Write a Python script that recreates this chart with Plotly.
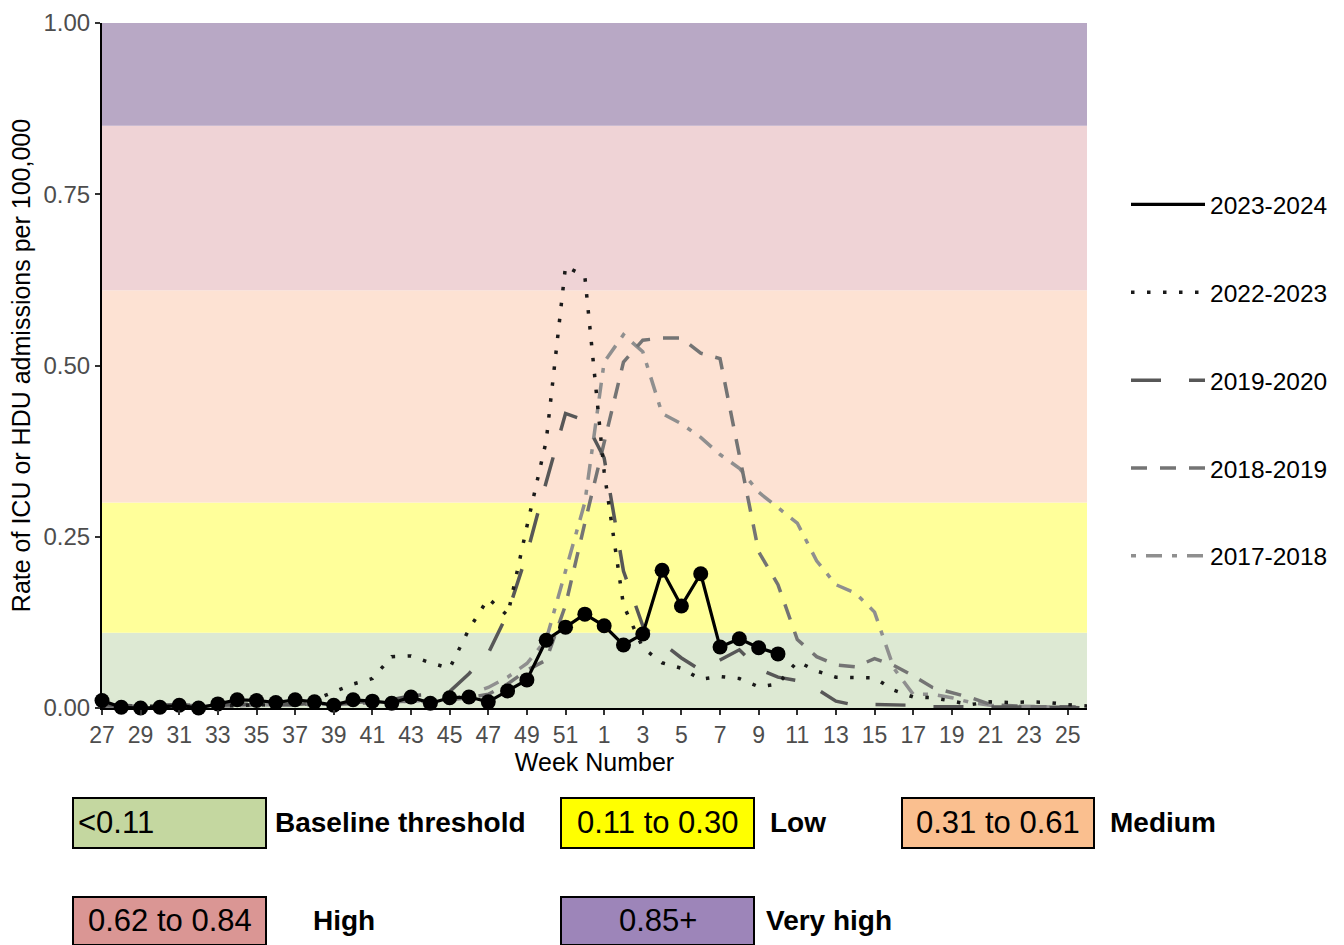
import plotly.graph_objects as go

# ---------------- data ----------------
weeks = list(range(27, 53)) + list(range(1, 27))
week_labels = [str(w) for w in weeks]
tick_labels = week_labels[::2][:26]  # 27, 29, ..., 51, 1, 3, ..., 25

season_names = ["2023-2024", "2022-2023", "2019-2020", "2018-2019", "2017-2018"]

rate_2023_2024 = [0.011, 0.001, 0.000, 0.001, 0.004, 0.000, 0.006, 0.012, 0.011, 0.008,
                  0.012, 0.009, 0.004, 0.012, 0.010, 0.007, 0.016, 0.007, 0.015, 0.016,
                  0.009, 0.025, 0.041, 0.099, 0.118, 0.137, 0.120, 0.092, 0.108, 0.201,
                  0.149, 0.196, 0.089, 0.101, 0.088, 0.079]

rate_2022_2023 = [0.003, 0.002, 0.002, 0.003, 0.002, 0.003, 0.004, 0.003, 0.005, 0.004,
                  0.006, 0.012, 0.024, 0.035, 0.043, 0.075, 0.076, 0.066, 0.058, 0.115,
                  0.160, 0.135, 0.265, 0.390, 0.645, 0.630, 0.345, 0.150, 0.088, 0.066,
                  0.058, 0.042, 0.046, 0.043, 0.031, 0.035, 0.068, 0.054, 0.045, 0.044,
                  0.044, 0.026, 0.016, 0.015, 0.010, 0.005, 0.009, 0.008, 0.009, 0.008,
                  0.005, 0.003]

rate_2019_2020 = [0.005, 0.004, 0.003, 0.004, 0.005, 0.003, 0.004, 0.006, 0.005, 0.006,
                  0.005, 0.007, 0.006, 0.008, 0.010, 0.012, 0.018, 0.020, 0.024, 0.050,
                  0.080, 0.138, 0.225, 0.330, 0.430, 0.420, 0.365, 0.200, 0.120, 0.095,
                  0.073, 0.055, 0.070, 0.085, 0.057, 0.045, 0.040, 0.028, 0.010, 0.004,
                  0.005, 0.005, 0.004, 0.002, 0.002, 0.001, 0.001, 0.002, 0.001, 0.001,
                  0.001, 0.000]

rate_2018_2019 = [0.003, 0.002, 0.003, 0.002, 0.004, 0.003, 0.003, 0.004, 0.005, 0.004,
                  0.005, 0.006, 0.005, 0.007, 0.008, 0.009, 0.010, 0.011, 0.012, 0.015,
                  0.020, 0.035, 0.055, 0.070, 0.150, 0.270, 0.390, 0.505, 0.537, 0.540,
                  0.540, 0.518, 0.510, 0.370, 0.228, 0.180, 0.100, 0.075, 0.063, 0.060,
                  0.072, 0.062, 0.047, 0.030, 0.023, 0.015, 0.005, 0.003, 0.002, 0.002,
                  0.002, 0.001]

rate_2017_2018 = [0.002, 0.003, 0.002, 0.003, 0.003, 0.002, 0.004, 0.003, 0.004, 0.005,
                  0.004, 0.005, 0.006, 0.006, 0.007, 0.008, 0.009, 0.010, 0.012, 0.020,
                  0.030, 0.045, 0.065, 0.100, 0.200, 0.300, 0.505, 0.545, 0.520, 0.430,
                  0.415, 0.395, 0.370, 0.350, 0.315, 0.292, 0.270, 0.215, 0.180, 0.168,
                  0.140, 0.058, 0.020, 0.020, 0.015, 0.008, 0.004, 0.003, 0.002, 0.002,
                  0.001, 0.001]

# threshold bands
band_lower = [0.00, 0.11, 0.30, 0.61, 0.85]
band_upper = [0.11, 0.30, 0.61, 0.85, 1.00]
band_fill = ["#dde9d3", "#ffff9a", "#fde2d3", "#efd3d6", "#b8a8c5"]
band_range_text = ["<0.11", "0.11 to 0.30", "0.31 to 0.61", "0.62 to 0.84", "0.85+"]
band_level_text = ["Baseline threshold", "Low", "Medium", "High", "Very high"]
band_key_fill = ["#c4d7a0", "#ffff00", "#fabf8f", "#da9694", "#9d85b9"]

y_ticks = [0.0, 0.25, 0.50, 0.75, 1.00]

# ---------------- layout helpers (pixel -> paper) ----------------
W, H = 1344, 945
PL, PR, PT, PB = 102, 1087, 23, 708


def px(x):
    return (x - PL) / (PR - PL)


def py(y):
    return (PB - y) / (PB - PT)


fig = go.Figure()

# background bands
for lo, hi, col in zip(band_lower, band_upper, band_fill):
    fig.add_hrect(y0=lo, y1=hi, fillcolor=col, opacity=1, line_width=0, layer="below")

# historic seasons (drawn first, under current season)
styles = {
    "2017-2018": dict(color="#8f8f8f", width=3.5, dash="5px,10px,16px,10px"),
    "2018-2019": dict(color="#747474", width=3.5, dash="16px,13px"),
    "2019-2020": dict(color="#575757", width=3.5, dash="30px,28px"),
    "2022-2023": dict(color="#1a1a1a", width=3.5, dash="3.5px,12.5px"),
}
series = {
    "2017-2018": rate_2017_2018,
    "2018-2019": rate_2018_2019,
    "2019-2020": rate_2019_2020,
    "2022-2023": rate_2022_2023,
}
ranks = {name: i + 1 for i, name in enumerate(season_names)}

for name in ["2017-2018", "2018-2019", "2019-2020", "2022-2023"]:
    vals = series[name]
    fig.add_trace(go.Scatter(
        x=week_labels[:len(vals)], y=vals, mode="lines", name=name,
        line=styles[name], legendgroup=name, legendrank=ranks[name],
    ))

fig.add_trace(go.Scatter(
    x=week_labels[:len(rate_2023_2024)], y=rate_2023_2024, mode="lines",
    name="2023-2024", line=dict(color="#000000", width=3.2),
    legendgroup="2023-2024", legendrank=ranks["2023-2024"],
))
fig.add_trace(go.Scatter(
    x=week_labels[:len(rate_2023_2024)], y=rate_2023_2024, mode="markers",
    marker=dict(color="#000000", size=15), showlegend=False, cliponaxis=False,
    hoverinfo="skip", legendgroup="2023-2024",
))

# threshold key below the chart
key_rows = [(798, 848), (897, 945)]
key_cols_box = [(73, 266), (561, 754), (902, 1094), (73, 266), (561, 754)]
key_rowidx = [0, 0, 0, 1, 1]
key_label_x = [273, 768, 1108, 311, 764]
for i in range(5):
    x0, x1 = key_cols_box[i]
    y0, y1 = key_rows[key_rowidx[i]]
    fig.add_shape(type="rect", xref="paper", yref="paper",
                  x0=px(x0), x1=px(x1), y0=py(y1), y1=py(y0),
                  fillcolor=band_key_fill[i], line=dict(color="#000000", width=2))
    left = i == 0
    fig.add_annotation(
        xref="paper", yref="paper",
        x=px(x0 + 3) if left else px((x0 + x1) / 2), y=py((y0 + y1) / 2),
        xanchor="left" if left else "center", yanchor="middle",
        text=band_range_text[i], showarrow=False,
        font=dict(family="Liberation Sans Narrow, Arial Narrow, Liberation Sans, sans-serif",
                  size=31, color="#000000"),
    )
    fig.add_annotation(
        xref="paper", yref="paper", x=px(key_label_x[i]), y=py((y0 + y1) / 2),
        xanchor="left", yanchor="middle", text="<b>" + band_level_text[i] + "</b>",
        showarrow=False,
        font=dict(family="Liberation Sans, Arial, sans-serif", size=28, color="#000000"),
    )

fig.update_layout(
    width=W, height=H,
    margin=dict(l=PL, r=W - PR, t=PT, b=H - PB, autoexpand=False),
    paper_bgcolor="#ffffff", plot_bgcolor="#ffffff",
    font=dict(family="Liberation Sans, Arial, sans-serif", color="#000000"),
    showlegend=True,
    legend=dict(
        x=px(1126), y=py(182), xanchor="left", yanchor="top",
        font=dict(size=24.5, color="#000000"), tracegroupgap=53,
        itemwidth=74, bgcolor="rgba(0,0,0,0)", traceorder="grouped",
    ),
    xaxis=dict(
        type="category", categoryorder="array", categoryarray=week_labels,
        range=[0, len(week_labels) - 1],
        tickmode="array", tickvals=tick_labels, ticktext=tick_labels,
        showgrid=False, zeroline=False,
        showline=True, linecolor="#000000", linewidth=2,
        ticks="outside", ticklen=5, tickwidth=1.5, tickcolor="#333333",
        tickfont=dict(size=23, color="#4d4d4d"),
        title=dict(text="Week Number", font=dict(size=25, color="#000000"), standoff=4),
    ),
    yaxis=dict(
        range=[0, 1], tickmode="array", tickvals=y_ticks, tickformat=".2f",
        showgrid=False, zeroline=False,
        showline=True, linecolor="#000000", linewidth=2,
        ticks="outside", ticklen=5, tickwidth=1.5, tickcolor="#333333",
        tickfont=dict(size=24, color="#4d4d4d"),
        title=dict(text="Rate of ICU or HDU admissions per 100,000",
                   font=dict(size=25, color="#000000"), standoff=6),
    ),
)

fig.write_html("out.html", config={"displayModeBar": False},
               post_script="document.body.style.margin='0';")
